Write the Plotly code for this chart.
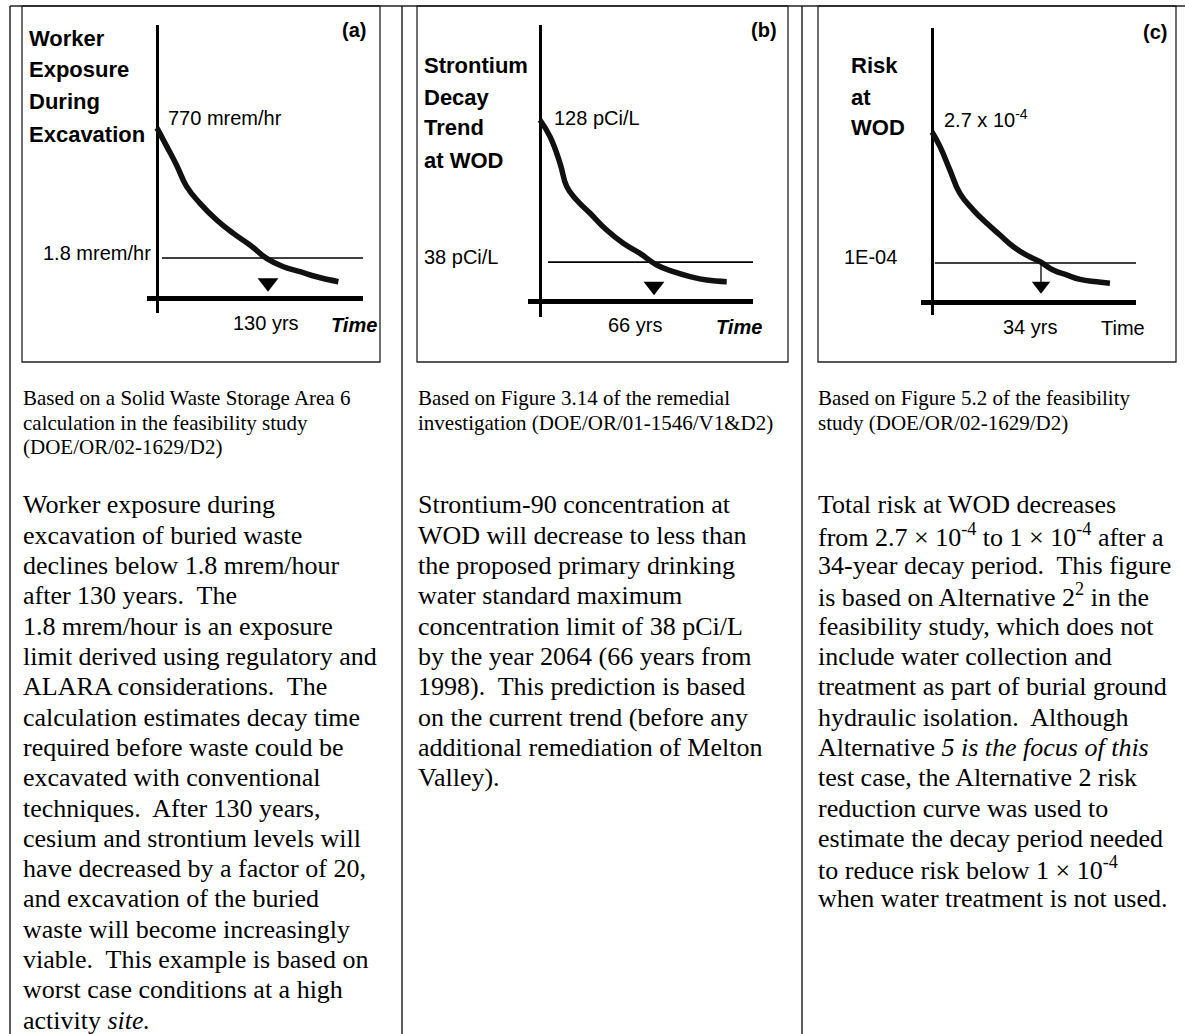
import plotly.graph_objects as go

# ---------------- data ----------------
# schematic level: 0 = time axis, 1 = starting value of each curve
a_years = [0, 11.4, 23.1, 34.8, 50.4, 69.9, 89.4, 108.9, 128.4, 148.0, 167.6, 187.0, 212.4]
a_level = [1.0, 0.892, 0.78, 0.655, 0.557, 0.459, 0.38, 0.312, 0.233, 0.184, 0.155, 0.125, 0.096]

b_years = [0, 5.8, 11.6, 15.5, 21.2, 29.0, 38.6, 48.2, 57.9, 67.6, 77.2, 86.9, 96.5, 108.1]
b_level = [1.0, 0.908, 0.761, 0.632, 0.558, 0.485, 0.392, 0.319, 0.263, 0.199, 0.162, 0.135, 0.116, 0.107]

c_years = [0, 2.5, 5.6, 8.7, 12.9, 17.1, 21.2, 25.4, 29.5, 33.7, 37.8, 42.0, 46.2, 51.4, 55.5]
c_level = [1.0, 0.914, 0.776, 0.639, 0.541, 0.463, 0.394, 0.325, 0.276, 0.237, 0.188, 0.159, 0.133, 0.119, 0.110]

crossing_years = [130, 66, 34]
limit_levels = [0.235, 0.215, 0.229]
limit_start_years = [5.9, 4.6, 0.9]

panel_letters = ["(a)", "(b)", "(c)"]
start_labels = ["770 mrem/hr", "128 pCi/L", "2.7 x 10<sup>-4</sup>"]
limit_labels = ["1.8 mrem/hr", "38 pCi/L", "1E-04"]
crossing_labels = ["130 yrs", "66 yrs", "34 yrs"]
time_labels = ["<b><i>Time</i></b>", "<b><i>Time</i></b>", "Time"]
titles = [["Worker", "Exposure", "During", "Excavation"],
          ["Strontium", "Decay", "Trend", "at WOD"],
          ["Risk", "at", "WOD"]]

captions = [
    ["Based on a Solid Waste Storage Area 6",
     "calculation in the feasibility study",
     "(DOE/OR/02-1629/D2)"],
    ["Based on Figure 3.14 of the remedial",
     "investigation (DOE/OR/01-1546/V1&D2)"],
    ["Based on Figure 5.2 of the feasibility",
     "study (DOE/OR/02-1629/D2)"],
]

S2 = "\u00a0 "
paragraphs = [
    ["Worker exposure during",
     "excavation of buried waste",
     "declines below 1.8 mrem/hour",
     "after 130 years." + S2 + "The",
     "1.8 mrem/hour is an exposure",
     "limit derived using regulatory and",
     "ALARA considerations." + S2 + "The",
     "calculation estimates decay time",
     "required before waste could be",
     "excavated with conventional",
     "techniques." + S2 + "After 130 years,",
     "cesium and strontium levels will",
     "have decreased by a factor of 20,",
     "and excavation of the buried",
     "waste will become increasingly",
     "viable." + S2 + "This example is based on",
     "worst case conditions at a high",
     "activity <i>site.</i>"],
    ["Strontium-90 concentration at",
     "WOD will decrease to less than",
     "the proposed primary drinking",
     "water standard maximum",
     "concentration limit of 38 pCi/L",
     "by the year 2064 (66 years from",
     "1998)." + S2 + "This prediction is based",
     "on the current trend (before any",
     "additional remediation of Melton",
     "Valley)."],
    ["Total risk at WOD decreases",
     "from 2.7 \u00d7 10<sup>-4</sup> to 1 \u00d7 10<sup>-4</sup> after a",
     "34-year decay period." + S2 + "This figure",
     "is based on Alternative 2<sup>2</sup> in the",
     "feasibility study, which does not",
     "include water collection and",
     "treatment as part of burial ground",
     "hydraulic isolation." + S2 + "Although",
     "Alternative <i>5 is the focus of this</i>",
     "test case, the Alternative 2 risk",
     "reduction curve was used to",
     "estimate the decay period needed",
     "to reduce risk below 1 \u00d7 10<sup>-4</sup>",
     "when water treatment is not used."],
]

# ---------------- layout geometry (pixels) ----------------
W, H = 1185, 1034
def PX(x): return x / W
def PY(y): return 1 - y / H

geom = [
    dict(ox=157, oy=298, left=147, right=363, top=25, bottom=313, arrow_px=268, start_py=128),
    dict(ox=540, oy=301, left=528, right=753, top=25, bottom=317, arrow_px=654, start_py=120),
    dict(ox=932, oy=302, left=921, right=1136, top=28, bottom=315, arrow_px=1041, start_py=132),
]
text_geom = [
    dict(title_x=28, title_y=[38, 70, 102, 134], letter=(367, 30), start=(167, 118),
         limit=(152, 253, "right"), cross=(232, 323), time=(330, 325), col_x=22),
    dict(title_x=423, title_y=[65, 97, 128, 160], letter=(778, 30), start=(553, 118),
         limit=(423, 257, "left"), cross=(607, 325), time=(715, 327), col_x=417),
    dict(title_x=850, title_y=[65, 97, 128], letter=(1168, 32), start=(943, 118),
         limit=(843, 257, "left"), cross=(1002, 327), time=(1100, 328), col_x=817),
]

SANS = "Liberation Sans, Arial, Helvetica, sans-serif"
SERIF = "Liberation Serif, Times New Roman, serif"
INK = "#000000"
TITLE_SIZE = 22
LABEL_SIZE = 20

series = [(a_years, a_level), (b_years, b_level), (c_years, c_level)]

fig = go.Figure()
layout_axes = {}
annotations = []

def note(x, y, text, size, family, anchor="left"):
    return dict(x=PX(x), y=PY(y), xref="paper", yref="paper", text=text,
                showarrow=False, xanchor=anchor, yanchor="middle", borderpad=0,
                font=dict(family=family, size=size, color=INK))

for i, (yrs, lvl) in enumerate(series):
    g = geom[i]
    sx = (g["arrow_px"] - g["ox"]) / crossing_years[i]
    sy = g["oy"] - g["start_py"]
    xr = [(g["left"] - g["ox"]) / sx, (g["right"] - g["ox"]) / sx]
    yr = [(g["oy"] - g["bottom"]) / sy, (g["oy"] - g["top"]) / sy]
    n = "" if i == 0 else str(i + 1)
    xa, ya = "x" + n, "y" + n
    layout_axes["xaxis" + n] = dict(
        domain=[PX(g["left"]), PX(g["right"])], range=xr, anchor=ya,
        showgrid=False, showticklabels=False, ticks="", showline=False,
        zeroline=True, zerolinecolor=INK, zerolinewidth=3, fixedrange=True)
    layout_axes["yaxis" + n] = dict(
        domain=[PY(g["bottom"]), PY(g["top"])], range=yr, anchor=xa,
        showgrid=False, showticklabels=False, ticks="", showline=False,
        zeroline=True, zerolinecolor=INK, zerolinewidth=4.5, fixedrange=True)

    # limit line
    fig.add_trace(go.Scatter(x=[limit_start_years[i], xr[1]], y=[limit_levels[i]] * 2,
                             mode="lines", line=dict(color=INK, width=1.6),
                             xaxis=xa, yaxis=ya, showlegend=False, hoverinfo="skip"))
    # decay curve
    fig.add_trace(go.Scatter(x=yrs, y=lvl, mode="lines",
                             line=dict(color="#111111", width=5.5, shape="spline", smoothing=1.3),
                             xaxis=xa, yaxis=ya, showlegend=False))
    # crossing marker
    if i < 2:
        fig.add_trace(go.Scatter(x=[crossing_years[i]], y=[limit_levels[i] * 0.38],
                                 mode="markers",
                                 marker=dict(symbol="triangle-down", size=18, color=INK),
                                 xaxis=xa, yaxis=ya, showlegend=False, hoverinfo="skip"))
    else:
        head_level = limit_levels[i] * 0.42
        fig.add_trace(go.Scatter(x=[crossing_years[i]] * 2, y=[limit_levels[i], head_level],
                                 mode="lines", line=dict(color=INK, width=1.3),
                                 xaxis=xa, yaxis=ya, showlegend=False, hoverinfo="skip"))
        fig.add_trace(go.Scatter(x=[crossing_years[i]], y=[head_level],
                                 mode="markers",
                                 marker=dict(symbol="triangle-down", size=16, color=INK),
                                 xaxis=xa, yaxis=ya, showlegend=False, hoverinfo="skip"))

    t = text_geom[i]
    for line, yc in zip(titles[i], t["title_y"]):
        annotations.append(note(t["title_x"], yc, "<b>" + line + "</b>", TITLE_SIZE, SANS))
    annotations.append(note(t["letter"][0], t["letter"][1], "<b>" + panel_letters[i] + "</b>",
                            LABEL_SIZE, SANS, "right"))
    annotations.append(note(t["start"][0], t["start"][1], start_labels[i], LABEL_SIZE, SANS))
    annotations.append(note(t["limit"][0], t["limit"][1], limit_labels[i], LABEL_SIZE, SANS,
                            t["limit"][2]))
    annotations.append(note(t["cross"][0], t["cross"][1], crossing_labels[i], LABEL_SIZE, SANS))
    annotations.append(note(t["time"][0], t["time"][1], time_labels[i], LABEL_SIZE, SANS))

    for k, line in enumerate(captions[i]):
        annotations.append(note(t["col_x"], 398 + 24.5 * k, line, 21, SERIF))
    for k, line in enumerate(paragraphs[i]):
        annotations.append(note(t["col_x"], 505 + 30.3 * k, line, 26, SERIF))

# table rules and figure boxes
shapes = []
LINE = dict(color="#222222", width=1.5)
shapes.append(dict(type="line", xref="paper", yref="paper", x0=PX(10), x1=1, y0=PY(6), y1=PY(6), line=LINE))
for xv in [10, 402, 802]:
    shapes.append(dict(type="line", xref="paper", yref="paper", x0=PX(xv), x1=PX(xv),
                       y0=PY(6), y1=0, line=LINE))
for x0, x1 in [(22, 380), (417, 788), (818, 1176)]:
    shapes.append(dict(type="rect", xref="paper", yref="paper", x0=PX(x0), x1=PX(x1),
                       y0=PY(362), y1=PY(6), line=dict(color="#222222", width=1.3)))

fig.update_layout(
    width=W, height=H, margin=dict(l=0, r=0, t=0, b=0),
    paper_bgcolor="white", plot_bgcolor="rgba(0,0,0,0)",
    showlegend=False, annotations=annotations, shapes=shapes,
    **layout_axes)

fig.write_html("out.html", config={"displayModeBar": False},
               post_script="document.body.style.margin='0';document.body.style.overflow='hidden';")
